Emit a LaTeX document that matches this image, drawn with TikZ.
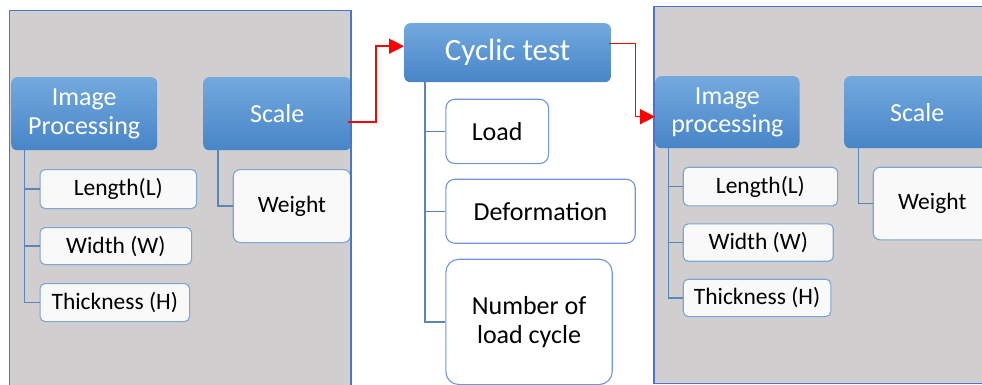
\documentclass[tikz,border=0pt]{standalone}
\usepackage{fontspec}
\setmainfont{Carlito}
\usetikzlibrary{arrows.meta,calc}

\definecolor{panelfill}{HTML}{D0CECE}
\definecolor{panelline}{HTML}{4A76C8}
\definecolor{hdrtop}{HTML}{72A9DE}
\definecolor{hdrbot}{HTML}{4885C7}
\definecolor{itemline}{HTML}{7BA6D8}
\definecolor{itemfill}{HTML}{F9F9F9}
\definecolor{treeline}{HTML}{5A85B5}

\tikzset{
  panelbg/.style={fill=panelfill},
  panelframe/.style={draw=panelline, line width=1.6pt},
  hdr/.style={anchor=north west, rounded corners=6pt, top color=hdrtop, bottom color=hdrbot,
    draw=none, text=white, align=center, inner sep=0pt, font=\fontsize{26}{28.5}\selectfont},
  item/.style={anchor=north west, rounded corners=5pt, draw=itemline, fill=itemfill,
    line width=1.1pt, align=center, inner sep=0pt, text=black, font=\fontsize{23.5}{27}\selectfont},
  testitem/.style={item, fill=white, draw=itemline!90!blue, rounded corners=9pt,
    font=\fontsize{26}{29}\selectfont},
  tree/.style={draw=treeline, line width=1.3pt},
  flow/.style={red, line width=1.6pt, -{Triangle[length=15pt,width=15pt]}}
}

\begin{document}
\begin{tikzpicture}[x=1pt, y=-1pt]
  \useasboundingbox (0,0) rectangle (982,385);
  \clip (0,0) rectangle (982,385);

  % grey panel backgrounds
  \fill[panelbg] (9.5,10.7) rectangle (351,400);
  \fill[panelbg] (654,6.7) rectangle (1000,383.3);

  % first panel: measurement before testing
  \node[hdr, minimum width=146pt, minimum height=73pt] (ipA) at (11,77) {Image\\Processing};
  \node[hdr, minimum width=148pt, minimum height=73pt] (scA) at (203,77) {Scale};
  \node[item, minimum width=156.5pt, minimum height=39pt] (lenA) at (39.5,169) {Length(L)};
  \node[item, minimum width=151.5pt, minimum height=37pt] (widA) at (39.5,227) {Width (W)};
  \node[item, minimum width=149.5pt, minimum height=38pt] (thkA) at (39.5,283) {Thickness (H)};
  \node[item, rounded corners=7pt, minimum width=117.3pt, minimum height=73pt] (wtA) at (232.7,169) {Weight};

  \draw[tree] ($(ipA.south west)+(13.7,0)$) |- (lenA.west);
  \draw[tree] ($(ipA.south west)+(13.7,0)$) |- (widA.west);
  \draw[tree] ($(ipA.south west)+(13.7,0)$) |- (thkA.west);
  \draw[tree] ($(scA.south west)+(15,0)$) |- (wtA.west);

  % middle: cyclic test
  \node[hdr, minimum width=206.7pt, minimum height=59pt, font=\fontsize{31}{34}\selectfont] (cyc) at (404,23) {Cyclic test};
  \node[testitem, minimum width=102.7pt, minimum height=64.3pt] (load) at (445.3,98.7) {Load};
  \node[testitem, minimum width=189.4pt, minimum height=64pt] (defo) at (445.3,178.7) {Deformation};
  \node[testitem, rounded corners=13pt, minimum width=166.4pt, minimum height=125.3pt] (ncyc) at (445.3,258.7) {Number of\\load cycle};

  \draw[tree] ($(cyc.south west)+(21,0)$) |- (load.west);
  \draw[tree] ($(cyc.south west)+(21,0)$) |- (defo.west);
  \draw[tree] ($(cyc.south west)+(21,0)$) |- (ncyc.west);

  % second panel: measurement after testing
  \node[hdr, minimum width=144.3pt, minimum height=72pt] (ipB) at (655,76) {Image\\processing};
  \node[hdr, minimum width=146pt, minimum height=72pt] (scB) at (844,76) {Scale};
  \node[item, minimum width=154.3pt, minimum height=38.6pt] (lenB) at (682.7,166.7) {Length(L)};
  \node[item, minimum width=150pt, minimum height=37.4pt] (widB) at (682.7,223.3) {Width (W)};
  \node[item, minimum width=147.6pt, minimum height=37.3pt] (thkB) at (682.7,278.7) {Thickness (H)};
  \node[item, rounded corners=7pt, minimum width=118pt, minimum height=72.6pt] (wtB) at (872.7,166.7) {Weight};

  \draw[tree] ($(ipB.south west)+(13.7,0)$) |- (lenB.west);
  \draw[tree] ($(ipB.south west)+(13.7,0)$) |- (widB.west);
  \draw[tree] ($(ipB.south west)+(13.7,0)$) |- (thkB.west);
  \draw[tree] ($(scB.south west)+(14.7,0)$) |- (wtB.west);

  % panel frames
  \draw[panelframe] (9.5,400) -- (9.5,10.7) -- (351,10.7) -- (351,400);
  \draw[panelframe] (1000,383.3) -- (654,383.3) -- (654,6.7) -- (1000,6.7);

  % red flow arrows
  \draw[flow] ($(cyc.east)+(-2,-9)$) -- ++(26.5,0) |- ($(ipB.west)+(0,4.5)$);
  \draw[flow] ($(scA.east)+(-3,8.5)$) -- ++(27.7,0) |- ($(cyc.west)+(0,-6.5)$);
\end{tikzpicture}
\end{document}
